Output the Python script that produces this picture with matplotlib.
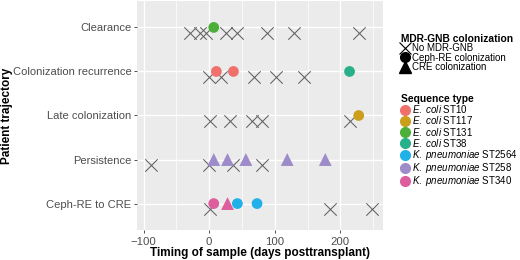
import matplotlib
matplotlib.use("Agg")
import matplotlib.pyplot as plt
from matplotlib.lines import Line2D

plt.rcParams['font.family'] = ['Liberation Sans', 'DejaVu Sans']
plt.rcParams['mathtext.fontset'] = 'custom'
plt.rcParams['mathtext.rm'] = 'Liberation Sans'
plt.rcParams['mathtext.it'] = 'Liberation Sans:italic'

# trajectories, bottom to top
trajectories = ["Ceph-RE to CRE", "Persistence", "Late colonization",
                "Colonization recurrence", "Clearance"]

# samples without MDR-GNB (days posttransplant)
no_mdr_days = {
    "Clearance": [-29, -14, -5, 25, 43, 88, 130, 228],
    "Colonization recurrence": [0, 18, 69, 102, 145],
    "Late colonization": [1, 32, 65, 81, 215],
    "Persistence": [-88, 0, 36, 80],
    "Ceph-RE to CRE": [1, 184, 248],
}

# colonized samples: trajectory, day, sequence type, colonization type
col_traj = ["Clearance", "Colonization recurrence", "Colonization recurrence",
            "Colonization recurrence", "Late colonization",
            "Persistence", "Persistence", "Persistence", "Persistence", "Persistence",
            "Ceph-RE to CRE", "Ceph-RE to CRE", "Ceph-RE to CRE", "Ceph-RE to CRE"]
col_day = [7, 11, 37, 214, 228, 7, 28, 56, 119, 177, 7, 28, 43, 73]
col_st = ["ST131", "ST10", "ST10", "ST38", "ST117",
          "ST258", "ST258", "ST258", "ST258", "ST258",
          "ST340", "ST340", "ST2564", "ST2564"]
col_type = ["Ceph-RE", "Ceph-RE", "Ceph-RE", "Ceph-RE", "Ceph-RE",
            "CRE", "CRE", "CRE", "CRE", "CRE",
            "Ceph-RE", "CRE", "Ceph-RE", "Ceph-RE"]

seq_types = ["ST10", "ST117", "ST131", "ST38", "ST2564", "ST258", "ST340"]
seq_species = ["E. coli", "E. coli", "E. coli", "E. coli",
               "K. pneumoniae", "K. pneumoniae", "K. pneumoniae"]
seq_colors = ["#F0716C", "#CC9F1B", "#4DAF3A", "#27B08A",
              "#1FB1E8", "#9E8BC9", "#DE5D9C"]

x_ticks = [-100, 0, 100, 200]

st_color = dict(zip(seq_types, seq_colors))
type_marker = {"Ceph-RE": "o", "CRE": "^"}
ypos = {t: i + 1 for i, t in enumerate(trajectories)}

fig = plt.figure(figsize=(5.2, 2.6), dpi=100)
ax = fig.add_axes([137 / 520, 1 - 230 / 260, (383 - 137) / 520, 229 / 260])
ax.set_facecolor("#EBEBEB")
for s in ax.spines.values():
    s.set_visible(False)

# no MDR-GNB crosses, drawn slightly below the row line
for t in trajectories:
    d = no_mdr_days[t]
    ax.scatter(d, [ypos[t] - 0.13] * len(d), marker="x", s=80,
               color="#616161", linewidths=0.75, zorder=3)

for t, d, st, ty in zip(col_traj, col_day, col_st, col_type):
    ax.scatter([d], [ypos[t]], marker=type_marker[ty],
               s=60 if ty == "Ceph-RE" else 85,
               color=st_color[st], edgecolors="none", zorder=4)

ax.set_xlim(-110, 265)
ax.set_ylim(0.4, 5.6)
ax.set_xticks(x_ticks)
ax.set_xticks([-50, 50, 150, 250], minor=True)
ax.set_yticks(list(ypos.values()))
ax.set_yticklabels(trajectories)
ax.grid(True, which="major", color="white", linewidth=1.0)
ax.grid(True, which="minor", axis="x", color="white", linewidth=0.5)
ax.set_axisbelow(True)
ax.tick_params(axis="both", which="major", length=2.5, width=0.6,
               color="#333333", labelcolor="#4D4D4D", labelsize=8.0, pad=1.5)
ax.tick_params(axis="x", which="major", pad=2.2, labelsize=8.2)
ax.tick_params(axis="x", which="minor", length=0)

ax.set_xlabel("Timing of sample (days posttransplant)", fontsize=8.5,
              fontweight="bold", labelpad=0.5)
ax.set_ylabel("Patient trajectory", fontsize=8.5, fontweight="bold")
ax.yaxis.set_label_coords(-0.505, 0.5, transform=ax.transAxes)

# legend: colonization type
shape_handles = [
    Line2D([], [], marker="x", linestyle="none", color="black",
           markersize=8, markeredgewidth=0.8),
    Line2D([], [], marker="o", linestyle="none", color="black", markersize=7),
    Line2D([], [], marker="^", linestyle="none", color="black", markersize=8),
]
shape_labels = ["No MDR-GNB", "Ceph-RE colonization", "CRE colonization"]
leg1 = fig.legend(shape_handles, shape_labels, title="MDR-GNB colonization",
                  loc="upper left", bbox_to_anchor=(396 / 520, 1 - 29 / 260),
                  frameon=False, fontsize=7, title_fontsize=7.4,
                  handlelength=0.8, handletextpad=0.3, labelspacing=-0.05,
                  borderpad=0, alignment="left")
leg1.get_title().set_fontweight("bold")

# legend: sequence type
st_handles = [Line2D([], [], marker="o", linestyle="none", color=c, markersize=7)
              for c in seq_colors]
st_labels = [r"$\it{" + sp.replace(" ", r"\ ") + "}$ " + st
             for sp, st in zip(seq_species, seq_types)]
leg2 = fig.legend(st_handles, st_labels, title="Sequence type",
                  loc="upper left", bbox_to_anchor=(396 / 520, 1 - 89 / 260),
                  frameon=False, fontsize=7, title_fontsize=7.4,
                  handlelength=0.8, handletextpad=0.3, labelspacing=-0.08,
                  borderpad=0, alignment="left")
leg2.get_title().set_fontweight("bold")

fig.savefig("out.png", dpi=100, facecolor="white")
